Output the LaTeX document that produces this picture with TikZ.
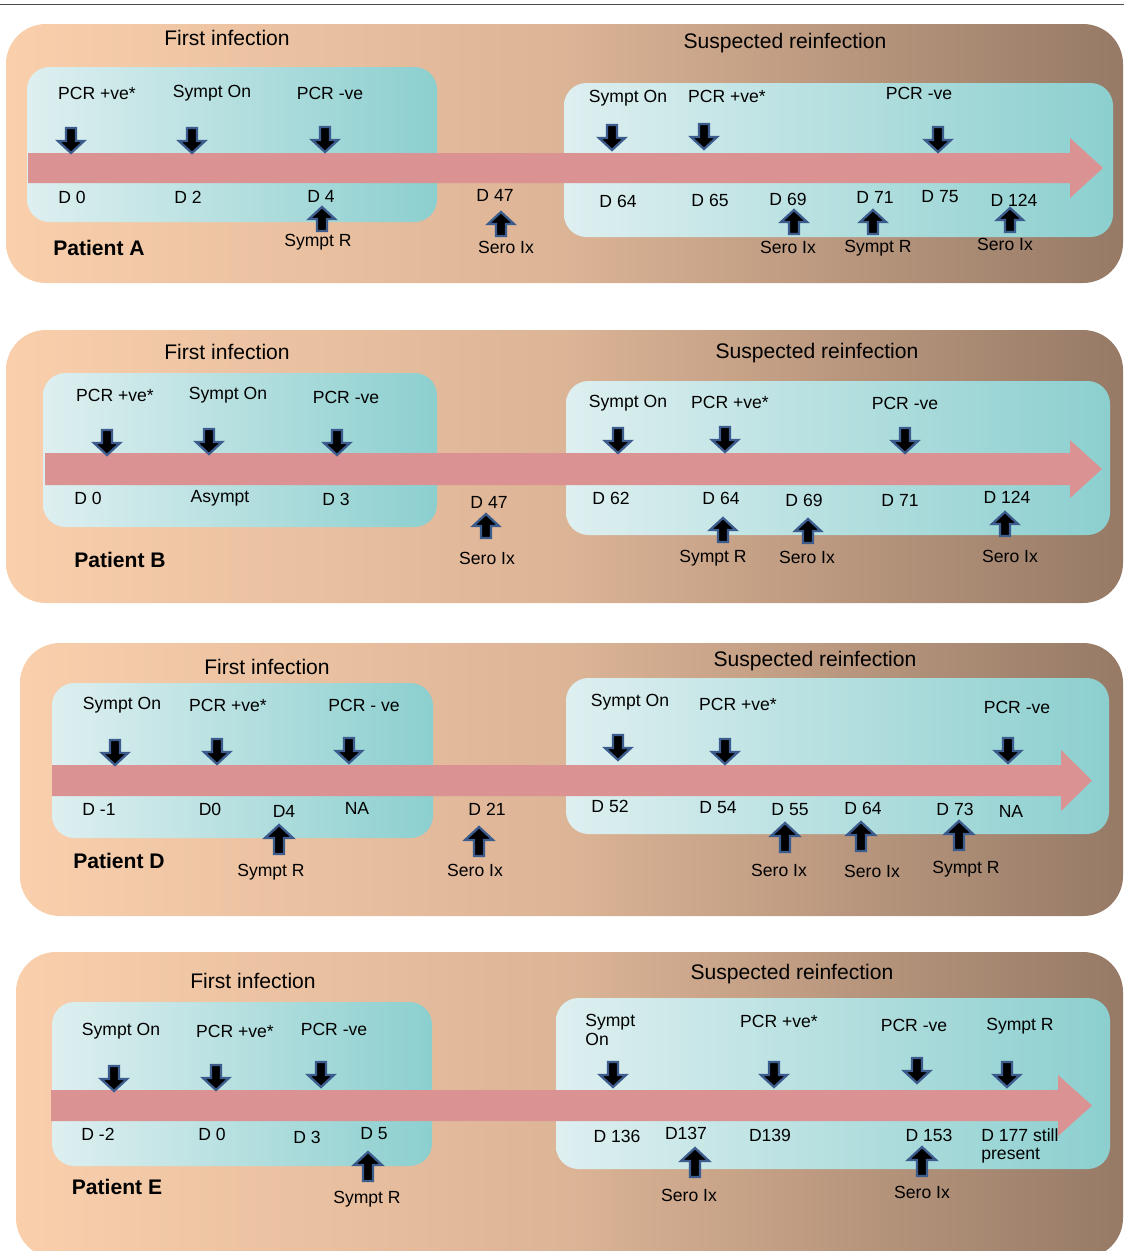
\documentclass[tikz,border=0pt]{standalone}
\usepackage{fontspec}
\setmainfont{Liberation Sans}
\usepackage{tikz}
\usetikzlibrary{calc}

\definecolor{peach}{RGB}{249,207,172}
\definecolor{midtan}{RGB}{220,180,150}
\definecolor{dkbrown}{RGB}{150,122,102}
\definecolor{icelight}{RGB}{222,239,240}
\definecolor{tealish}{RGB}{140,207,207}
\definecolor{bandred}{RGB}{218,146,146}
\definecolor{arrblue}{RGB}{60,92,142}

\begin{document}
\begin{tikzpicture}[x=0.02cm,y=-0.02cm,
    outer/.style={rounded corners=0.8cm,left color=peach,right color=dkbrown,middle color=midtan},
    inner/.style={rounded corners=0.45cm,left color=icelight,right color=tealish},
    band/.style={fill=bandred},
    arrline/.style={draw=arrblue,fill=black,line width=1.3pt},
    lbl/.style={font=\fontsize{10}{10.5}\selectfont,inner sep=0pt},
    ttl/.style={font=\fontsize{12}{14}\selectfont,inner sep=0pt},
    pat/.style={font=\fontsize{12}{14}\selectfont\bfseries,inner sep=0pt},
    dnarr/.pic={\draw[arrline] (0,0) -- (-13,-12) -- (-5,-12) -- (-5,-25) -- (5,-25) -- (5,-12) -- (13,-12) -- cycle;},
    uparr/.pic={\draw[arrline] (0,0) -- (-13,12) -- (-5,12) -- (-5,24) -- (5,24) -- (5,12) -- (13,12) -- cycle;},
    tallup/.pic={\draw[arrline] (0,0) -- (-14,13) -- (-5,13) -- (-5,29) -- (5,29) -- (5,13) -- (14,13) -- cycle;}]
\useasboundingbox (0,0) rectangle (1124,1251);
\draw[black!70,line width=0.6pt] (0,4.5) -- (1124,4.5);

% Patient A
\path[outer] (6,24) rectangle (1123,283);
\path[inner] (27,67) rectangle (437,222);
\path[inner] (564,83) rectangle (1113,237);
\fill[band] (28,153) -- (1070,153) -- (1070,138) -- (1103,168) -- (1070,198) -- (1070,183) -- (28,183) -- cycle;
\foreach \x/\y in {71/153,192/153,325/152,612/150,704/149,938/152}
  \pic at (\x,\y) {dnarr};
\foreach \x/\y in {322/207,501/212,794/210,873/210,1010/208}
  \pic at (\x,\y) {uparr};
\node[ttl] (a-first) at (227,38) {First infection};
\node[ttl] (a-reinf) at (785,43) {Suspected reinfection};
\node[pat] (a-pat) at (99,248) {Patient A};
\foreach \x/\y/\t [count=\i] in {97/93/PCR +ve*,212/93/Sympt On,330/93/PCR -ve,
    628/98/Sympt On,727/96/PCR +ve*,919/93/PCR -ve,
    72/197/D 0,188/197/D 2,321/196/D 4,495/195/D 47,618/201/D 64,710/200/D 65,
    788/199/D 69,875/197/D 71,940/197/D 75,1014/200/D 124,
    318/242/Sympt R,506/247/Sero Ix,788/247/Sero Ix,878/248/Sympt R,1005/244/Sero Ix}
  \node[lbl] (a\i) at (\x,\y) {\t};

% Patient B
\path[outer] (6,330) rectangle (1123,603);
\path[inner] (43,373) rectangle (437,527);
\path[inner] (566,381) rectangle (1110,535);
\fill[band] (45,453) -- (1070,453) -- (1070,440) -- (1102,469) -- (1070,498) -- (1070,485) -- (45,485) -- cycle;
\foreach \x/\y in {107/455,209/454,337/455,618/453,725/452,905/453}
  \pic at (\x,\y) {dnarr};
\foreach \x/\y in {486/514,723/518,808/519,1005/512}
  \pic at (\x,\y) {uparr};
\node[ttl] (b-first) at (227,352) {First infection};
\node[ttl] (b-reinf) at (817,353) {Suspected reinfection};
\node[pat] (b-pat) at (120,560) {Patient B};
\foreach \x/\y/\t [count=\i] in {115/395/PCR +ve*,228/395/Sympt On,346/397/PCR -ve,
    628/403/Sympt On,730/402/PCR +ve*,905/403/PCR -ve,
    88/498/D 0,220/498/Asympt,336/499/D 3,489/502/D 47,611/498/D 62,721/498/D 64,
    804/500/D 69,900/500/D 71,1007/497/D 124,
    487/558/Sero Ix,713/558/Sympt R,807/557/Sero Ix,1010/556/Sero Ix}
  \node[lbl] (b\i) at (\x,\y) {\t};

% Patient D
\path[outer] (20,643) rectangle (1123,916);
\path[inner] (52,683) rectangle (433,838);
\path[inner] (566,678) rectangle (1109,834);
\fill[band] (52,765) -- (1061,765) -- (1061,750) -- (1092,780.5) -- (1061,811) -- (1061,796) -- (52,796) -- cycle;
\foreach \x/\y in {115/765,217/764,349/763,618/760,725/764,1008/763}
  \pic at (\x,\y) {dnarr};
\foreach \x/\y in {279/825,479/827,785/823,861/822,959/821}
  \pic at (\x,\y) {tallup};
\node[ttl] (d-first) at (267,667) {First infection};
\node[ttl] (d-reinf) at (815,661) {Suspected reinfection};
\node[pat] (d-pat) at (119,861) {Patient D};
\foreach \x/\y/\t [count=\i] in {122/705/Sympt On,228/705/PCR +ve*,364/705/PCR - ve,
    630/702/Sympt On,738/704/PCR +ve*,1017/707/PCR -ve,
    99/809/D -1,210/809/D0,284/811/D4,357/808/NA,487/809/D 21,610/806/D 52,
    718/808/D 54,790/810/D 55,863/808/D 64,955/809/D 73,1011/811/NA,
    271/872/Sympt R,475/870/Sero Ix,779/870/Sero Ix,872/871/Sero Ix,966/869/Sympt R}
  \node[lbl] (d\i) at (\x,\y) {\t};

% Patient E
\path[outer] (16,952) rectangle (1123,1258);
\path[inner] (52,1002) rectangle (432,1166);
\path[inner] (556,998) rectangle (1110,1169);
\fill[band] (51,1090) -- (1058,1090) -- (1058,1075) -- (1092,1105.5) -- (1058,1136) -- (1058,1121) -- (51,1121) -- cycle;
\foreach \x/\y in {114/1091,216/1090,321/1087,613/1087,774/1087,917/1083,1007/1087}
  \pic at (\x,\y) {dnarr};
\foreach \x/\y in {368/1152,695/1148,922/1147}
  \pic at (\x,\y) {tallup};
\node[ttl] (e-first) at (253,981) {First infection};
\node[ttl] (e-reinf) at (792,974) {Suspected reinfection};
\node[pat] (e-pat) at (117,1187) {Patient E};
\node[lbl,align=left,anchor=west] (e-on) at (585,1030) {Sympt\\On};
\node[lbl,align=left,anchor=west] (e-still) at (981,1146) {D 177 still\\present};
\foreach \x/\y/\t [count=\i] in {121/1031/Sympt On,235/1031/PCR +ve*,334/1029/PCR -ve,
    779/1021/PCR +ve*,914/1025/PCR -ve,1020/1026/Sympt R,
    98/1134/D -2,212/1134/D 0,307/1137/D 3,374/1134/D 5,617/1136/D 136,686/1133/D137,
    770/1135/D139,929/1135/D 153,
    367/1199/Sympt R,689/1195/Sero Ix,922/1192/Sero Ix}
  \node[lbl] (e\i) at (\x,\y) {\t};
\end{tikzpicture}
\end{document}
